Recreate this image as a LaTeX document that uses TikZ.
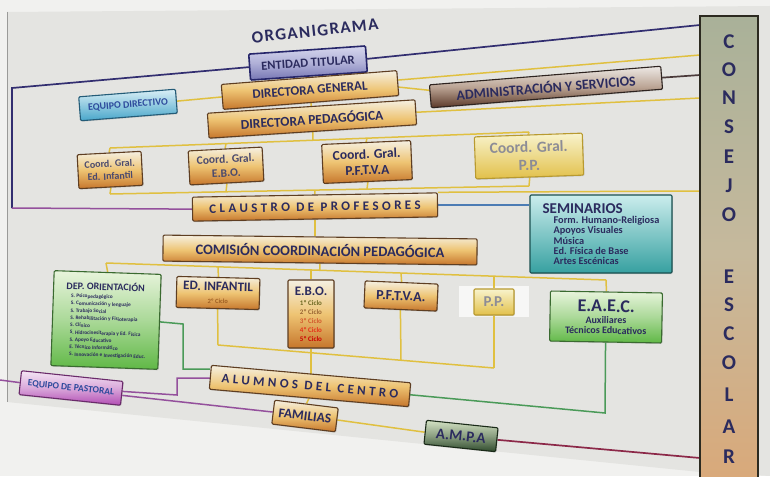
\documentclass[tikz,border=0pt]{standalone}
\usepackage{fontspec}
\setmainfont{Carlito}
\newfontfamily\spaced[LetterSpace=26]{Carlito}
\newfontfamily\titlef[LetterSpace=8]{Carlito}
\usetikzlibrary{calc,shadows}
\pgfdeclarelayer{bg}
\pgfdeclarelayer{lines}
\pgfsetlayers{bg,lines,main}
\definecolor{navy}{HTML}{2B2B5E}
\definecolor{wall}{HTML}{F1F1EF}
\definecolor{board}{HTML}{E4E4E1}
\definecolor{edge}{HTML}{9A9A98}
\definecolor{ylw}{HTML}{E0C040}
\definecolor{nvl}{HTML}{322E70}
\definecolor{prp}{HTML}{94509C}
\definecolor{grn}{HTML}{4A9A58}
\definecolor{blu}{HTML}{4C7CB4}
\definecolor{dkl}{HTML}{4A3A3A}
\definecolor{drd}{HTML}{8C2848}
\definecolor{ortop}{HTML}{F5F0E2}
\definecolor{ormid}{HTML}{EEC473}
\definecolor{orbot}{HTML}{C6762C}
\definecolor{ordraw}{HTML}{5E3E22}
\definecolor{yetop}{HTML}{F8F3CC}
\definecolor{yebot}{HTML}{E2C04A}
\definecolor{yedraw}{HTML}{B89A30}
\definecolor{bltop}{HTML}{DAEFF6}
\definecolor{blbot}{HTML}{48A6CA}
\definecolor{bldraw}{HTML}{245C78}
\definecolor{entop}{HTML}{D6D7EE}
\definecolor{enbot}{HTML}{7676B4}
\definecolor{endraw}{HTML}{26266A}
\definecolor{adtop}{HTML}{EDE9E5}
\definecolor{admid}{HTML}{BBA494}
\definecolor{adbot}{HTML}{5A3828}
\definecolor{adraw}{HTML}{2E2420}
\definecolor{tetop}{HTML}{CBEDED}
\definecolor{tebot}{HTML}{36A0A0}
\definecolor{tedraw}{HTML}{1A5050}
\definecolor{grtop}{HTML}{E8F4DC}
\definecolor{grbot}{HTML}{60B846}
\definecolor{grdraw}{HTML}{3A6A30}
\definecolor{putop}{HTML}{F4E6F4}
\definecolor{pubot}{HTML}{B24CB4}
\definecolor{pudraw}{HTML}{6A2A6A}
\definecolor{amtop}{HTML}{D4E2C4}
\definecolor{ambot}{HTML}{2E4A2C}
\definecolor{amdraw}{HTML}{1A2A18}
\definecolor{cotop}{HTML}{A9B199}
\definecolor{comid}{HTML}{C6B99C}
\definecolor{cobot}{HTML}{DAA878}
\definecolor{codraw}{HTML}{2C2A20}
\definecolor{coordtxt}{HTML}{4A4A6E}
\definecolor{pptxt}{HTML}{8C8C96}
\definecolor{edtxt}{HTML}{2D4A9C}
\newcommand\fsz[2]{\fontsize{#1}{#2}\selectfont}
\begin{document}
\begin{tikzpicture}[x=1pt,y=-1pt,
  box/.style={draw, line width=1.1pt, rounded corners=1.2pt, align=center, text=navy, inner sep=1pt,
    drop shadow={opacity=0.3, shadow xshift=0.8pt, shadow yshift=-1pt}},
  org/.style={box, draw=ordraw, top color=ortop, bottom color=orbot, middle color=ormid},
  yel/.style={box, draw=yedraw, top color=yetop, bottom color=yebot, middle color=yetop!50!yebot, text=pptxt},
  blb/.style={box, draw=bldraw, top color=bltop, bottom color=blbot, text=edtxt},
  ent/.style={box, draw=endraw, line width=1.6pt, top color=entop, bottom color=enbot, middle color=entop!60!enbot},
  adm/.style={box, draw=adraw, top color=adtop, bottom color=adbot, middle color=admid},
  tea/.style={box, draw=tedraw, top color=tetop, bottom color=tebot, middle color=tetop!50!tebot},
  gre/.style={box, draw=grdraw, top color=grtop, bottom color=grbot, middle color=grtop!55!grbot},
  pur/.style={box, draw=pudraw, top color=putop, bottom color=pubot, middle color=putop!60!pubot, text=edtxt},
  amp/.style={box, draw=amdraw, top color=amtop, bottom color=ambot, middle color=amtop!55!ambot},
  letter/.style={text=navy, font=\bfseries\fsz{21}{22}, inner sep=0pt},
  ln/.style={line width=1.5pt},
  yl/.style={ln, draw=ylw},
  nv/.style={ln, draw=nvl, line width=1.7pt},
  pu/.style={ln, draw=prp},
  gr/.style={ln, draw=grn},
  bl/.style={ln, draw=blu},
  dk/.style={ln, draw=dkl, line width=1.7pt},
  rd/.style={ln, draw=drd, line width=1.7pt}]
\useasboundingbox (0,0) rectangle (770,476);
\begin{pgfonlayer}{bg}
\fill[wall] (0,0) rectangle (770,476);
\fill[board] (7,12) -- (770,6) -- (770,476) -- (700,472) -- (7,402) -- cycle;
\draw[edge, line width=0.8pt] (7,12) -- (7,402);
\fill[white!70!board] (459,286) rectangle (529,317);
\end{pgfonlayer}

% title
\node[text=navy, font=\bfseries\titlef\fsz{17}{18}, rotate=6, inner sep=0pt] (title) at (315,31) {ORGANIGRAMA};

% consejo escolar
\node[draw=codraw, line width=2.5pt, top color=cotop, bottom color=cobot, middle color=comid,
      minimum width=58, minimum height=475, anchor=north, inner sep=0pt] (con) at (729,15) {};
\foreach \L/\yy [count=\i] in {C/42,O/70,N/98,S/127,E/157,J/186,O/215,E/277,S/305,C/334,O/363,L/395,A/427,R/457}
  \node[letter] (cl\i) at (729,\yy) {\L};

% top level
\node[ent, rotate=4, minimum width=117, minimum height=26, font=\bfseries\fsz{12.5}{14}] (ent) at (308,63) {ENTIDAD TITULAR};
\node[org, rotate=4.5, minimum width=176, minimum height=25, font=\bfseries\fsz{13}{15}] (dg) at (310,90) {DIRECTORA GENERAL};
\node[blb, rotate=4.5, minimum width=97, minimum height=24, font=\bfseries\fsz{10}{12}] (ed) at (128,105) {EQUIPO DIRECTIVO};
\node[adm, rotate=4.6, minimum width=232, minimum height=23, font=\bfseries\fsz{14}{16}] (adm) at (546,87) {ADMINISTRACIÓN Y SERVICIOS};
\node[org, rotate=3.7, minimum width=208, minimum height=25, font=\bfseries\fsz{13.5}{15}] (dp) at (312,119) {DIRECTORA PEDAGÓGICA};

% coordinators
\node[org, rotate=3, minimum width=64, minimum height=34, text=coordtxt, font=\bfseries\fsz{10}{12.5}] (cgi) at (110,170) {Coord. Gral.\\Ed. Infantil};
\node[org, rotate=3, minimum width=74, minimum height=34, text=coordtxt, font=\bfseries\fsz{11.5}{14}] (cge) at (226,166) {Coord. Gral.\\E.B.O.};
\node[org, rotate=2.5, minimum width=89, minimum height=39, text=navy, font=\bfseries\fsz{13.5}{16}] (cgp) at (367,162) {Coord. Gral.\\P.F.T.V.A};
\node[yel, rotate=2, minimum width=108, minimum height=42, font=\bfseries\fsz{15.5}{18}] (cgpp) at (529,156) {Coord. Gral.\\P.P.};

% claustro, seminarios, comision
\node[org, rotate=1, minimum width=245, minimum height=24, font=\bfseries\spaced\fsz{13}{15}] (cla) at (315,207) {CLAUSTRO DE PROFESORES};
\node[tea, minimum width=142, minimum height=78, align=left, font=\bfseries\fsz{10.3}{10.3}] (sem) at (601,234)
  {{\fsz{15}{16}SEMINARIOS}\\
   \hspace*{11pt}Form. Humano-Religiosa\\
   \hspace*{11pt}Apoyos Visuales\\
   \hspace*{11pt}Música\\
   \hspace*{11pt}Ed. Física de Base\\
   \hspace*{11pt}Artes Escénicas};
\node[org, rotate=-0.7, minimum width=314, minimum height=26, font=\bfseries\fsz{14.5}{16}] (com) at (320,250) {COMISIÓN COORDINACIÓN PEDAGÓGICA};

% departments
\node[gre, rotate=-2, minimum width=107, minimum height=95, align=left, font=\bfseries\fsz{5.3}{7.3}] (dep) at (106,320)
  {{\fsz{10}{11}DEP. ORIENTACIÓN}\\[1pt]
   \hspace*{5pt}S. Psicopedagógico\\
   \hspace*{5pt}S. Comunicación y lenguaje\\
   \hspace*{5pt}S. Trabajo Social\\
   \hspace*{5pt}S. Rehabilitación y Fisioterapia\\
   \hspace*{5pt}S. Clínico\\
   \hspace*{5pt}S. Hidrocinesiterapia y Ed. Física\\
   \hspace*{5pt}S. Apoyo Educativo\\
   \hspace*{5pt}E. Técnico Informático\\
   \hspace*{5pt}S. Innovación e Investigación Educ.};
\node[org, rotate=-1.5, minimum width=83, minimum height=31, font=\bfseries\fsz{13}{14}] (inf) at (218,293)
  {ED. INFANTIL\\[-1pt]{\fsz{6.5}{7}\color{orbot!80!black}2º Ciclo}};
\node[org, minimum width=46, minimum height=68, font=\bfseries\fsz{7}{9}] (ebo) at (311,314)
  {{\fsz{13}{14}E.B.O.}\\[1pt]
   {\color{olive!70!black}1º Ciclo}\\
   {\color{brown!80!black}2º Ciclo}\\
   {\color{brown!70!red}3º Ciclo}\\
   {\color{red!60!brown}4º Ciclo}\\
   {\color{red!80!black}5º Ciclo}};
\node[org, rotate=-2.5, minimum width=73, minimum height=27, font=\bfseries\fsz{14}{15}] (pft) at (401,296) {P.F.T.V.A.};
\node[yel, minimum width=40, minimum height=26, font=\bfseries\fsz{15}{16}] (pp) at (494,302) {P.P.};
\node[gre, rotate=-1, minimum width=112, minimum height=50, font=\bfseries\fsz{10}{10.5}] (eaec) at (606,317)
  {{\fsz{18}{19}E.A.E.C.}\\[1pt]Auxiliares\\Técnicos Educativos};

% bottom
\node[org, rotate=-5, minimum width=200, minimum height=24, font=\bfseries\spaced\fsz{13}{15}] (alu) at (310,386) {ALUMNOS DEL CENTRO};
\node[pur, rotate=-6, minimum width=102, minimum height=24, font=\bfseries\fsz{9.5}{11}] (pas) at (71,388) {EQUIPO DE PASTORAL};
\node[org, rotate=-7, minimum width=64, minimum height=24, font=\bfseries\fsz{13.5}{15}] (fam) at (305,416) {FAMILIAS};
\node[amp, rotate=-6, minimum width=72, minimum height=24, font=\bfseries\fsz{15}{16}] (ampa) at (461,436) {A.M.P.A};

% coordinates
\coordinate (k1) at (700,25);
\coordinate (k2) at (700,55);
\coordinate (k3) at (700,75);
\coordinate (k4) at (700,98);
\coordinate (k5) at (700,191);
\coordinate (k6) at (700,458);
\coordinate (c1) at (12,88);
\coordinate (c2) at (12,208);
\coordinate (p0) at (0,380);
\coordinate (b1a) at (110,148);
\coordinate (b1b) at (226,143.6);
\coordinate (b1c) at (313,140.2);
\coordinate (b1d) at (367,138.2);
\coordinate (b1e) at (529,132);
\coordinate (b2a) at (110,194);
\coordinate (b2b) at (226,191.8);
\coordinate (b2c) at (315,190.1);
\coordinate (b2d) at (367,189.1);
\coordinate (b2e) at (529,186);
\coordinate (b3a) at (106,263);
\coordinate (b3b) at (218,266.8);
\coordinate (b3c) at (320,270.3);
\coordinate (b3d) at (311,270);
\coordinate (b3e) at (401,273.1);
\coordinate (b3f) at (494,276.3);
\coordinate (b3g) at (606,280);
\coordinate (b4a) at (218,345);
\coordinate (b4c) at (401,360.3);
\coordinate (b4d) at (494,368);
\coordinate (g1) at (183,324);
\coordinate (g2) at (605,413);
\coordinate (p1) at (177,395);

\begin{pgfonlayer}{lines}
\draw[nv] (ent.east) -- (k1);
\draw[nv] (ent.west) -- (c1) -- (c2);
\draw[pu] (c2) -- (cla.west);
\draw[pu] (p0) -- (pas.west);
\draw[nv] (ent.south) -- (dg.north);
\draw[yl] (ed.east) -- (dg.west);
\draw[yl] ($(dg.east)+(0,-3)$) -- (k2);
\draw[yl] ($(dg.east)+(0,4)$) -- ($(adm.west)+(0,-6)$);
\draw[dk] (adm.east) -- (k3);
\draw[yl] (dg.south) -- (dp.north);
\draw[yl] (dp.east) -- (k4);
\draw[yl] (dp.south) -- (b1c);
\draw[yl] (b1a) -- (b1e);
\draw[yl] (b1a) -- (cgi.north);
\draw[yl] (b1b) -- (cge.north);
\draw[yl] (b1d) -- (cgp.north);
\draw[yl] (b1e) -- (cgpp.north);
\draw[yl] (b2a) -- (b2e);
\draw[yl] (cgi.south) -- (b2a);
\draw[yl] (cge.south) -- (b2b);
\draw[yl] (cgp.south) -- (b2d);
\draw[yl] (cgpp.south) -- (b2e);
\draw[yl] (b2c) -- (cla.north);
\draw[yl] (cla.north east) -- (k5);
\draw[bl] (cla.east) -- (cla.east -| sem.west);
\draw[yl] (cla.south) -- (cla.south |- com.north);
\draw[yl] (com.south) -- (b3c);
\draw[yl] (b3a) -- (b3g);
\draw[yl] (b3a) -- (dep.north);
\draw[yl] (b3b) -- (inf.north);
\draw[yl] (b3d) -- (ebo.north);
\draw[yl] (b3e) -- (pft.north);
\draw[yl] (b3f) -- (pp.north);
\draw[yl] (b3g) -- (eaec.north);
\draw[yl] (b4a) -- (b4d);
\draw[yl] (inf.south) -- (b4a);
\draw[yl] (pft.south) -- (b4c);
\draw[yl] (pp.south) -- (b4d);
\draw[yl] (ebo.south) -- (ebo.south |- alu.north);
\draw[gr] (dep.east) -- (g1) |- ($(alu.west)+(0,-8)$);
\draw[gr] (alu.east) -- (g2) -- (eaec.south);
\draw[pu] ($(pas.east)+(0,-2)$) -- (p1) |- ($(alu.west)+(0,1)$);
\draw[pu] ($(pas.east)+(0,2)$) -- (fam.west);
\draw[yl] (alu.south) -- (fam.north);
\draw[yl] (fam.east) -- (ampa.west);
\draw[rd] (ampa.east) -- (k6);
\end{pgfonlayer}
\end{tikzpicture}
\end{document}
